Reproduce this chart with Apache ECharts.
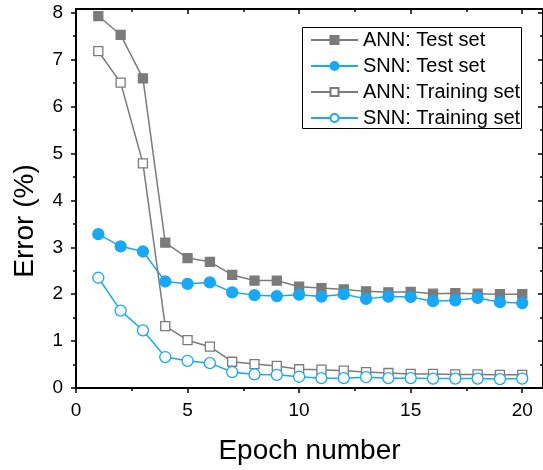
<!DOCTYPE html>
<html>
<head>
<meta charset="utf-8">
<script src="https://cdn.jsdelivr.net/npm/echarts@6/dist/echarts.min.js"></script>
<style>html,body{margin:0;padding:0;background:#fff}#c{width:543px;height:470px}</style>
</head>
<body>
<div id="c"></div>
<script>
const epochs = [1,2,3,4,5,6,7,8,9,10,11,12,13,14,15,16,17,18,19,20];
const annTest = [7.93,7.53,6.60,3.10,2.77,2.69,2.41,2.29,2.29,2.16,2.13,2.10,2.06,2.04,2.05,2.01,2.02,2.01,2.00,2.00];
const snnTest = [3.28,3.02,2.91,2.27,2.22,2.25,2.04,1.98,1.96,1.99,1.95,2.00,1.90,1.95,1.94,1.85,1.87,1.92,1.83,1.81];
const annTrain = [7.18,6.51,4.79,1.32,1.02,0.88,0.56,0.51,0.47,0.40,0.39,0.37,0.34,0.32,0.30,0.30,0.29,0.29,0.28,0.28];
const snnTrain = [2.35,1.65,1.23,0.66,0.58,0.53,0.34,0.29,0.28,0.24,0.21,0.21,0.23,0.21,0.21,0.20,0.20,0.20,0.19,0.20];
const seriesNames = ['ANN: Test set','SNN: Test set','ANN: Training set','SNN: Training set'];
const xMajor = [0,5,10,15,20];
const xMinor = [2.5,7.5,12.5,17.5];
const yMajor = [0,1,2,3,4,5,6,7,8];
const yMinor = [0.5,1.5,2.5,3.5,4.5,5.5,6.5,7.5];
const xTitle = 'Epoch number';
const yTitle = 'Error (%)';

const GREY = '#7b7b7b', BLUE = '#18a8f5';
const FONT = 'Liberation Sans, Arial, sans-serif';
const chart = echarts.init(document.getElementById('c'), null, {renderer:'canvas'});

function xAx(pos, ticks, len, inside, labels, showLine, extra) {
  return Object.assign({
    type:'value', position:pos, min:0, max:20.93, gridIndex:0,
    axisLine:{show:showLine, onZero:false, lineStyle:{color:'#000', width:2}},
    axisTick:{show:true, inside:inside, length:len, customValues:ticks, lineStyle:{color:'#000', width:1.5}},
    axisLabel:{show:labels, customValues:ticks, margin:13, fontSize:19, color:'#000', fontFamily:FONT},
    splitLine:{show:false}
  }, extra||{});
}
function yAx(pos, ticks, len, inside, labels, showLine, extra) {
  return Object.assign({
    type:'value', position:pos, min:0, max:8.08, gridIndex:0,
    axisLine:{show:showLine, onZero:false, lineStyle:{color:'#000', width:2}},
    axisTick:{show:true, inside:inside, length:len, customValues:ticks, lineStyle:{color:'#000', width:1.5}},
    axisLabel:{show:labels, customValues:ticks, margin:13, fontSize:19, color:'#000', fontFamily:FONT},
    splitLine:{show:false}
  }, extra||{});
}

function mk(name, data, color, symbol, size, filled) {
  return {
    name:name, type:'line', xAxisIndex:0, yAxisIndex:0,
    data: epochs.map((e,i)=>[e,data[i]]),
    symbol:symbol, symbolSize:size, showSymbol:true,
    lineStyle:{color:color, width:1.5},
    itemStyle:{color: filled ? color : '#fff', borderColor:color, borderWidth:1.3},
    emphasis:{disabled:true}, animation:false
  };
}

chart.setOption({
  animation:false,
  grid:{left:76, top:9, width:470, height:383, containLabel:false},
  xAxis:[
    xAx('bottom', xMajor, 5, false, true, true, {name:xTitle, nameLocation:'middle', nameGap:49, nameTextStyle:{fontSize:28, color:'#000', fontFamily:FONT}}),
    xAx('bottom', xMinor, 3, false, false, false),
    xAx('top', xMajor, 5, true, false, true),
    xAx('top', xMinor, 3, true, false, false)
  ],
  yAxis:[
    yAx('left', yMajor, 5, false, true, true),
    yAx('left', yMinor, 3, false, false, false),
    yAx('right', yMajor, 5, true, false, true),
    yAx('right', yMinor, 3, true, false, false)
  ],
  legend:{
    orient:'vertical', left:305, top:25, itemWidth:47, itemHeight:10, itemGap:6,
    textStyle:{fontSize:20, color:'#000', fontFamily:FONT, lineHeight:20},
    data:seriesNames, selectedMode:false
  },
  graphic:[
    {type:'rect', shape:{x:302.5, y:27.5, width:219, height:101}, style:{fill:'none', stroke:'#000', lineWidth:1}, z:100},
    {type:'text', x:25, y:221, rotation:Math.PI/2, style:{text:yTitle, font:'28px ' + FONT, fill:'#000', align:'center', verticalAlign:'middle'}}
  ],
  series:[
    mk(seriesNames[0], annTest, GREY, 'rect', 9, true),
    mk(seriesNames[1], snnTest, BLUE, 'circle', 11, true),
    mk(seriesNames[2], annTrain, GREY, 'rect', 9, false),
    mk(seriesNames[3], snnTrain, BLUE, 'circle', 11, false)
  ]
});
</script>
</body>
</html>
